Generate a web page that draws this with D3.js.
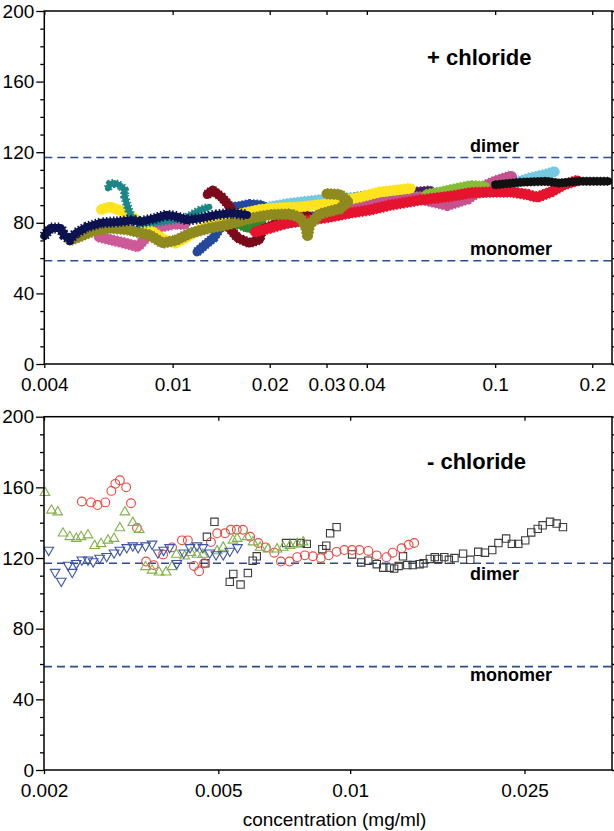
<!DOCTYPE html>
<html>
<head>
<meta charset="utf-8">
<script src="https://cdn.jsdelivr.net/npm/d3@7"></script>
<style>
  body { margin: 0; background: #fff; }
  svg { display: block; font-family: "Liberation Sans", Arial, sans-serif; }
</style>
</head>
<body>
<svg width="614" height="831"></svg>
<script>
// reference masses
const dimerMass = 117;
const monomerMass = 58.5;

// tick values
const topTicks = [0.004, 0.01, 0.02, 0.03, 0.04, 0.1, 0.2];
const bottomTicks = [0.002, 0.005, 0.01, 0.025];
const yTicks = [0, 40, 80, 120, 160, 200];
const yMinor = d3.range(0, 201, 10).filter(d => d % 40 !== 0);

// + chloride traces: [concentration (mg/ml), mass]
const navyTrace = [[0.0040,72.5],[0.00417,77],[0.0045,77],[0.0046,73],[0.0048,70.5],[0.0050,74],[0.0054,77.5],[0.0060,80],[0.0067,80.5],[0.0075,81.5],[0.0079,80.5],[0.0088,82.5],[0.0096,84.5],[0.0103,83.5],[0.0111,81.5],[0.0121,82.5],[0.0137,84.5],[0.0154,85.5],[0.0170,84.5]];
const tealTrace = [[0.0063,99.5],[0.0064,102],[0.0066,102.5],[0.0069,101],[0.0071,98.5],[0.0071,95],[0.0072,91],[0.0073,87.5],[0.0075,82.5],[0.0079,79.5],[0.0091,80.5],[0.0109,82.5],[0.0121,87],[0.0130,89]];
const yellowTrace = [[0.0060,87.5],[0.0064,89],[0.0071,86],[0.0079,80.5],[0.0085,76],[0.0094,70.5],[0.0102,68.5],[0.0110,71.5],[0.0118,75],[0.0130,79],[0.0142,81.5],[0.0161,85],[0.0186,87.5],[0.0215,88.5],[0.0248,89],[0.0307,91],[0.0381,94.5],[0.0440,97.5],[0.0547,99.5]];
const oliveTrace = [[0.0048,70],[0.0052,72.5],[0.0057,75.5],[0.0064,77],[0.0073,76],[0.0085,73],[0.0093,68.5],[0.0102,70],[0.0113,74],[0.0130,77],[0.0149,79],[0.0173,82.5],[0.0200,84.5],[0.0231,85],[0.0248,83],[0.0259,78],[0.0262,73],[0.0266,79],[0.0286,85],[0.0330,88],[0.0350,92],[0.0330,96],[0.0300,96.5]];
const pinkTrace = [[0.0059,72],[0.0064,70.5],[0.0071,68.5],[0.0078,66.5],[0.0085,74],[0.0091,77.5],[0.0102,79.5],[0.0109,79]];
const magentaTrace = [[0.0336,89.5],[0.044,91],[0.0588,94],[0.071,90.5],[0.082,94],[0.0908,99.5],[0.100,103],[0.112,106]];
const maroonTrace = [[0.0128,96],[0.0133,98.5],[0.0142,94.5],[0.0150,89.5],[0.0154,84.5],[0.0150,77],[0.0159,71.5],[0.0173,68.5],[0.0186,70.5],[0.0189,76],[0.0200,78],[0.0215,80.5],[0.0227,87],[0.0234,91],[0.0243,88.5],[0.0266,83]];
const blueTrace = [[0.0119,63.5],[0.0126,67.5],[0.0134,71.5],[0.0140,77],[0.0149,84.5],[0.0157,89],[0.0173,90.5],[0.0189,90],[0.0208,84.5],[0.0248,82.5],[0.0307,85],[0.0354,88.5]];
const greenTrace = [[0.0149,78],[0.0159,79.5],[0.0171,77],[0.0181,78],[0.0189,80.5]];
const redTrace = [[0.018,74.8],[0.020,77],[0.0231,80.5],[0.0266,81.5],[0.0307,83.3],[0.0354,85.5],[0.041,87.3],[0.0472,90],[0.0588,93],[0.0727,95],[0.084,97],[0.097,97.5],[0.112,97.5],[0.126,96],[0.135,94.5],[0.149,97.5],[0.163,101.5],[0.180,104]];
const lightBlueTrace = [[0.020,89],[0.0231,91],[0.0286,93],[0.0344,94],[0.0588,94.5],[0.068,95],[0.0786,96],[0.0908,97],[0.105,101],[0.117,103],[0.129,105.5],[0.144,107.5],[0.153,109]];
const limeTrace = [[0.0612,96],[0.068,97.5],[0.0765,99.5],[0.084,101],[0.093,100.5]];
const blackTrace = [[0.100,101.5],[0.12,103],[0.144,103.5],[0.158,102.5],[0.182,103.5],[0.224,103.5]];
const purpleTrace = [[0.020,77.5],[0.0248,80.5],[0.0307,87],[0.0346,94],[0.041,96],[0.0506,97],[0.0632,98.5]];

// - chloride series: [concentration (mg/ml), mass]
const squareSeries = [[0.00467,117],[0.00471,132],[0.0049,140.5],[0.00531,106.5],[0.00541,111],[0.00562,105],[0.00584,111.5],[0.00599,118.5],[0.00612,121],[0.00714,128.5],[0.00742,128.5],[0.00771,128.5],[0.00796,128],[0.00864,125],[0.00882,127],[0.009,134],[0.00931,137.5],[0.0101,122],[0.0106,117.5],[0.011,118.5],[0.0115,116.5],[0.0119,114.5],[0.0123,114.5],[0.0126,114],[0.0129,115.5],[0.0132,121],[0.0135,116],[0.0139,116],[0.0144,116.5],[0.0147,117],[0.0152,119.5],[0.0156,120.5],[0.0159,119.5],[0.0164,120.5],[0.0168,119],[0.0173,120],[0.0181,122.5],[0.0188,119],[0.0196,123.5],[0.0203,123],[0.0211,124.5],[0.0218,128.5],[0.0227,131],[0.0234,128],[0.0242,128],[0.0251,130],[0.0259,134.5],[0.0268,136.5],[0.0275,138.5],[0.0286,140.5],[0.0296,139.5],[0.0306,137.5]];
const circleSeries = [[0.00244,152],[0.00256,151.5],[0.00265,150],[0.00276,151.5],[0.00285,158],[0.00291,162],[0.00298,164],[0.00308,160],[0.00316,151],[0.00326,137],[0.00342,118],[0.00356,116],[0.00374,122],[0.00392,126],[0.00413,130],[0.00426,130],[0.0044,115.5],[0.00452,112.5],[0.00464,117],[0.00481,129],[0.00497,134],[0.00518,134],[0.00534,136],[0.00551,136],[0.00569,136],[0.00591,132],[0.00617,128.5],[0.00642,126],[0.00671,123],[0.00695,118],[0.00727,118],[0.00757,120.5],[0.00788,121.5],[0.00822,121],[0.00857,120],[0.00893,121.5],[0.00931,123.5],[0.0097,124.5],[0.0101,124.5],[0.0105,124.5],[0.011,124],[0.0115,121.5],[0.0121,120.5],[0.0125,123],[0.0131,125.5],[0.0136,127.5],[0.014,128.5]];
const upTriangleSeries = [[0.00201,157],[0.00208,147],[0.00215,146],[0.00221,134],[0.00229,132],[0.00237,131],[0.00243,132],[0.00252,133],[0.00261,127],[0.0027,128],[0.0028,130],[0.00289,131],[0.00298,137],[0.00306,146],[0.00319,140],[0.0033,136],[0.00341,115],[0.00353,113],[0.00366,112],[0.0038,112],[0.00392,115],[0.00401,122],[0.00419,121],[0.00433,123],[0.00447,122],[0.00461,122],[0.00497,124],[0.00513,126],[0.0054,130],[0.00552,131],[0.00582,132],[0.006,129],[0.00623,126],[0.00649,125],[0.00681,125],[0.00703,126],[0.00729,127],[0.00756,128],[0.00781,129]];
const downTriangleSeries = [[0.00205,124.5],[0.00212,112],[0.00219,107],[0.00227,116],[0.00232,112],[0.00237,117],[0.00244,119],[0.00252,119],[0.00259,118],[0.00268,120],[0.00278,121],[0.00289,123],[0.00298,124.5],[0.00309,126],[0.00319,127],[0.00328,126],[0.00341,127],[0.00353,128],[0.00364,123],[0.00375,124.5],[0.00387,126],[0.00402,117],[0.00417,123],[0.00431,126],[0.00447,127],[0.00461,126],[0.00478,123],[0.00494,122],[0.00513,122],[0.00531,124],[0.00553,126]];

// styles, drawn bottom to top: [trace, colour, band width, edge roughness]
const traceStyles = [
  [purpleTrace, "#4b1b5f", 8, 1.5],
  [blueTrace, "#24489b", 9, 1.5],
  [greenTrace, "#2c8a2c", 9, 1.5],
  [maroonTrace, "#7b0b1b", 9, 1.5],
  [lightBlueTrace, "#74c8e0", 10, 1.5],
  [magentaTrace, "#c4528d", 12, 1.5],
  [limeTrace, "#86bd36", 10, 1.5],
  [redTrace, "#e6132f", 10, 1.5],
  [blackTrace, "#111111", 8, 1],
  [pinkTrace, "#cc5a98", 10, 1.5],
  [yellowTrace, "#ffe31c", 10, 1],
  [oliveTrace, "#8e8a1f", 10, 1.5],
  [tealTrace, "#1c8585", 6, 3],
  [navyTrace, "#0c1150", 8, 3]
];

const svg = d3.select("svg");

const xTop = d3.scaleLog().domain([0.004, 0.2303]).range([44.3, 612]);
const yTop = d3.scaleLinear().domain([0, 200]).range([364, 11]);
const xBot = d3.scaleLog().domain([0.002, 0.0396]).range([44, 612]);
const yBot = d3.scaleLinear().domain([0, 200]).range([770, 416.7]);

const fmt = d => String(d);

// frame, ticks and labels for one panel
const drawAxes = (x, y, xTicks, labelPad) => {
  const [x0, x1] = x.range();
  const [y0, y1] = y.range();
  const g = svg.append("g");
  const clean = s => s.call(a => a.select(".domain").remove())
    .attr("font-size", null).attr("font-family", null);

  g.append("g").attr("transform", `translate(${x0},0)`)
    .call(d3.axisLeft(y).tickValues(yTicks).tickSize(8).tickPadding(2).tickFormat(fmt)).call(clean);
  g.append("g").attr("transform", `translate(${x0},0)`)
    .call(d3.axisLeft(y).tickValues(yMinor).tickSize(4).tickFormat("")).call(clean);
  g.append("g").attr("transform", `translate(${x1},0)`)
    .call(d3.axisLeft(y).tickValues(yTicks).tickSize(-8).tickFormat("")).call(clean);
  g.append("g").attr("transform", `translate(${x1},0)`)
    .call(d3.axisLeft(y).tickValues(yMinor).tickSize(-4).tickFormat("")).call(clean);
  g.append("g").attr("transform", `translate(0,${y0})`)
    .call(d3.axisBottom(x).tickValues(xTicks).tickSize(4).tickPadding(labelPad).tickFormat(fmt)).call(clean);
  g.append("g").attr("transform", `translate(0,${y1})`)
    .call(d3.axisBottom(x).tickValues(xTicks).tickSize(4).tickFormat("")).call(clean);

  g.selectAll(".tick line").attr("stroke", "#000").attr("stroke-width", 1.3);
  g.selectAll(".tick text").attr("fill", "#000").attr("font-size", 19);

  g.append("rect")
    .attr("x", x0).attr("y", y1)
    .attr("width", x1 - x0).attr("height", y0 - y1)
    .attr("fill", "none").attr("stroke", "#000").attr("stroke-width", 1.5);
};

// dashed reference lines with labels
const drawRefs = (x, y, dimerDy, monoDy) => {
  const [x0, x1] = x.range();
  [[dimerMass, "dimer", dimerDy], [monomerMass, "monomer", monoDy]].forEach(([m, name, dy]) => {
    svg.append("line")
      .attr("x1", x0).attr("x2", x1)
      .attr("y1", y(m)).attr("y2", y(m))
      .attr("stroke", "#2b4c8f").attr("stroke-width", 1.6)
      .attr("stroke-dasharray", "8,5");
    svg.append("text")
      .attr("x", 470).attr("y", y(m) + dy)
      .attr("font-size", 18).attr("font-weight", "bold")
      .text(name);
  });
};

// top panel
drawRefs(xTop, yTop, -5, -6);

const line = d3.line().x(d => xTop(d[0])).y(d => yTop(d[1]));
traceStyles.forEach(([pts, color, w, rough]) => {
  svg.append("path")
    .attr("d", line(pts))
    .attr("fill", "none").attr("stroke", color)
    .attr("stroke-width", w + rough).attr("stroke-dasharray", "1.5,2")
    .attr("stroke-linejoin", "round");
  svg.append("path")
    .attr("d", line(pts))
    .attr("fill", "none").attr("stroke", color)
    .attr("stroke-width", w)
    .attr("stroke-linejoin", "round").attr("stroke-linecap", "round");
});

drawAxes(xTop, yTop, topTicks, 10);

svg.append("text")
  .attr("x", 427).attr("y", 65)
  .attr("font-size", 22).attr("font-weight", "bold")
  .text("+ chloride");

// bottom panel
drawRefs(xBot, yBot, 17, 14);

const bot = svg.append("g").attr("fill", "none").attr("stroke-width", 1.1);

bot.selectAll(".sq").data(squareSeries).join("path")
  .attr("d", d3.symbol(d3.symbolSquare, 54))
  .attr("transform", d => `translate(${xBot(d[0])},${yBot(d[1])})`)
  .attr("stroke", "#3c3c3c");

bot.selectAll(".ci").data(circleSeries).join("circle")
  .attr("cx", d => xBot(d[0])).attr("cy", d => yBot(d[1]))
  .attr("r", 4.4)
  .attr("stroke", "#e8473d");

bot.selectAll(".up").data(upTriangleSeries).join("path")
  .attr("d", d3.symbol(d3.symbolTriangle, 40))
  .attr("transform", d => `translate(${xBot(d[0])},${yBot(d[1])})`)
  .attr("stroke", "#84b04a");

bot.selectAll(".dn").data(downTriangleSeries).join("path")
  .attr("d", d3.symbol(d3.symbolTriangle, 40))
  .attr("transform", d => `translate(${xBot(d[0])},${yBot(d[1])}) rotate(180)`)
  .attr("stroke", "#3d55a3");

drawAxes(xBot, yBot, bottomTicks, 10);

svg.append("text")
  .attr("x", 427).attr("y", 468.5)
  .attr("font-size", 22).attr("font-weight", "bold")
  .text("- chloride");

svg.append("text")
  .attr("x", 334.5).attr("y", 826)
  .attr("text-anchor", "middle")
  .attr("font-size", 19)
  .text("concentration (mg/ml)");
</script>
</body>
</html>
